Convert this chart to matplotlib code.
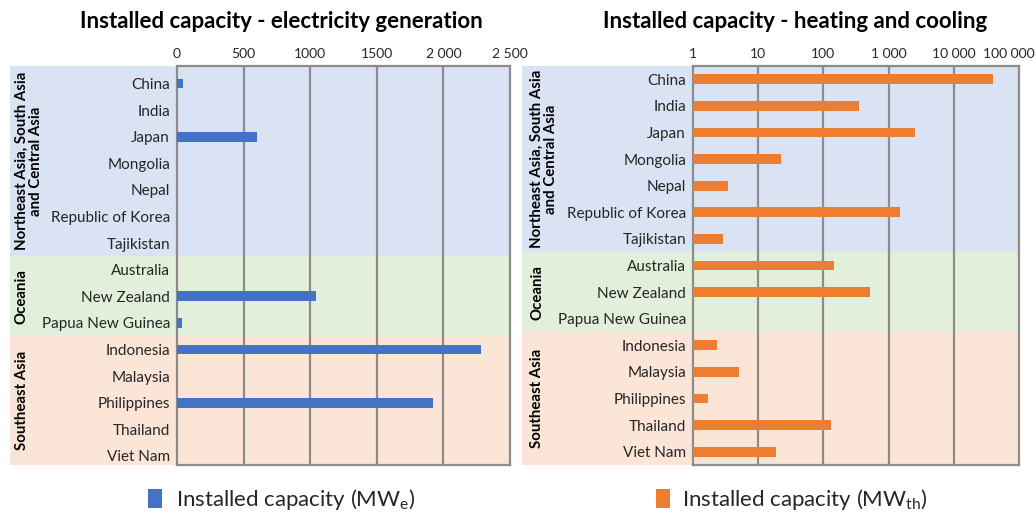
import numpy as np
import matplotlib
matplotlib.use("Agg")
import matplotlib.pyplot as plt
import matplotlib.transforms as mtransforms
from matplotlib.patches import Rectangle

plt.rcParams['font.family'] = ['Lato', 'DejaVu Sans']

# countries top to bottom
countries = ['China', 'India', 'Japan', 'Mongolia', 'Nepal', 'Republic of Korea', 'Tajikistan',
             'Australia', 'New Zealand', 'Papua New Guinea',
             'Indonesia', 'Malaysia', 'Philippines', 'Thailand', 'Viet Nam']
regions = ['Northeast Asia, South Asia\nand Central Asia', 'Oceania', 'Southeast Asia']
region_sizes = [7, 3, 5]
region_colors = ['#dae3f3', '#e2efda', '#fbe5d6']

# MWe
electricity = [45, 0, 600, 0, 0, 0, 0,
               0, 1040, 40,
               2280, 0, 1920, 0, 0]
# MWth
heating = [40500, 350, 2550, 22, 3.4, 1480, 2.9,
           144, 515, np.nan,
           2.3, 5.0, 1.7, 129, 18.6]

elec_ticks = [0, 500, 1000, 1500, 2000, 2500]
elec_ticklabels = ['0', '500', '1000', '1500', '2 000', '2 500']
heat_ticks = [1, 10, 100, 1000, 10000, 100000]
heat_ticklabels = ['1', '10', '100', '1 000', '10 000', '100 000']

W, H = 1036, 513
fig = plt.figure(figsize=(W / 100, H / 100), dpi=100)

ax_bottom = 1 - 465 / H
ax_height = 399 / H
ax1 = fig.add_axes([177 / W, ax_bottom, 333 / W, ax_height])
ax2 = fig.add_axes([693 / W, ax_bottom, 326 / W, ax_height])

n = len(countries)
ypos = np.arange(n)
grid_col = '#8c8c8c'
text_col = '#262626'


def style_axis(ax, bg_left, text_off, ticks, ticklabels, xlim, shift):
    top, bottom = -0.5 - shift, n - 0.5 - shift
    ax.set_ylim(bottom, top)
    ax.set_xlim(*xlim)
    ax.set_xticks(ticks)
    ax.set_xticklabels(ticklabels)
    ax.minorticks_off()
    ax.xaxis.tick_top()
    ax.tick_params(axis='x', length=0, pad=4, labelsize=10, labelcolor=text_col)
    ax.tick_params(axis='y', length=0, pad=5, labelsize=11, labelcolor=text_col)
    ax.set_yticks(ypos)
    ax.set_yticklabels(countries)
    ax.set_facecolor('none')
    for s in ax.spines.values():
        s.set_color(grid_col)
        s.set_linewidth(1.6)
    for t in ticks[1:-1]:
        ax.axvline(t, color=grid_col, lw=1.6, zorder=1)
    # region background bands
    trans = mtransforms.blended_transform_factory(fig.transFigure, ax.transData)
    x0 = bg_left
    x1 = ax.get_position().x1
    edges = np.concatenate([[0], np.cumsum(region_sizes)]) - 0.5
    edges[0] = top
    edges[-1] = bottom
    for i, (name, col) in enumerate(zip(regions, region_colors)):
        y0, y1 = edges[i], edges[i + 1]
        rect = Rectangle((x0, y0), x1 - x0, y1 - y0, transform=trans,
                         facecolor=col, edgecolor='none', zorder=-5, clip_on=False)
        fig.patches.append(rect)
        fig.text(x0 + text_off, (y0 + y1) / 2, name, transform=trans,
                 rotation=90, ha='left', va='center', fontsize=10.8,
                 fontweight='bold', color='black', multialignment='center',
                 linespacing=1.0)


ax1.barh(ypos, electricity, height=0.37, color='#4472c4', zorder=3)
style_axis(ax1, 10 / W, 5 / W, elec_ticks, elec_ticklabels, (0, 2500), 0.16)

ax2.set_xscale('log')
heat_w = np.array(heating) - 1
ax2.barh(ypos, heat_w, left=1, height=0.37, color='#ed7d31', zorder=3)
style_axis(ax2, 522 / W, 8 / W, heat_ticks, heat_ticklabels, (1, 100000), 0.0)

# last log label sits a bit left of its tick in the original
lbl = ax2.get_xticklabels()[-1]
lbl.set_transform(lbl.get_transform() + mtransforms.ScaledTranslation(-10 / 100, 0, fig.dpi_scale_trans))

fig.text(281 / W, 1 - 21 / H, 'Installed capacity - electricity generation',
         ha='center', va='center', fontsize=16, fontweight='bold', color='black')
fig.text(795 / W, 1 - 21 / H, 'Installed capacity - heating and cooling',
         ha='center', va='center', fontsize=16, fontweight='bold', color='black')

# legends
fig.patches.append(Rectangle((148 / W, 1 - 508 / H), 14 / W, 19 / H,
                             transform=fig.transFigure, facecolor='#4472c4', edgecolor='none'))
fig.text(176 / W, 1 - 499 / H, 'Installed capacity (MW$_\\mathregular{e}$)',
         ha='left', va='center', fontsize=16, color=text_col)
fig.patches.append(Rectangle((656 / W, 1 - 508 / H), 14 / W, 19 / H,
                             transform=fig.transFigure, facecolor='#ed7d31', edgecolor='none'))
fig.text(682 / W, 1 - 499 / H, 'Installed capacity (MW$_\\mathregular{th}$)',
         ha='left', va='center', fontsize=16, color=text_col)

fig.savefig('out.png', dpi=100)
